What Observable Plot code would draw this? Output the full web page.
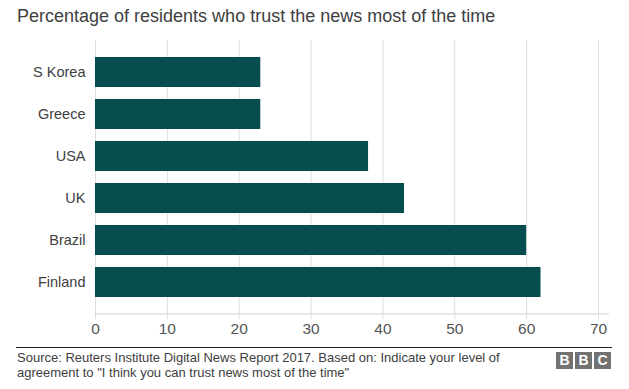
<!DOCTYPE html>
<html><head><meta charset="utf-8">
<script src="https://cdn.jsdelivr.net/npm/d3@7"></script>
<script src="https://cdn.jsdelivr.net/npm/@observablehq/plot@0.6"></script>
<style>
body{margin:0;background:#fff;font-family:"Liberation Sans",Arial,Helvetica,sans-serif;width:629px;height:389px;overflow:hidden;position:relative}
#title{position:absolute;left:17px;top:6px;font-size:18px;color:#404040;white-space:nowrap}
#chart{position:absolute;left:0;top:34px}
#foot{position:absolute;left:16px;top:347px;width:596px;border-top:1.5px solid #222;}
#src{position:absolute;left:17px;top:351px;font-size:13px;line-height:14.5px;color:#404040;white-space:nowrap}
#bbc{position:absolute;left:556px;top:352px;display:flex;gap:2px}
#bbc span{display:block;width:17px;height:17px;background:#727272;color:#fff;font-weight:bold;font-size:14px;line-height:17px;text-align:center}
</style></head><body>
<div id="title">Percentage of residents who trust the news most of the time</div>
<div id="chart"></div>
<div id="foot"></div>
<div id="src">Source: Reuters Institute Digital News Report 2017. Based on: Indicate your level of<br>agreement to "I think you can trust news most of the time"</div>
<div id="bbc"><span>B</span><span>B</span><span>C</span></div>
<script>
const countries = ["S Korea", "Greece", "USA", "UK", "Brazil", "Finland"];
const values = [23, 23, 38, 43, 60, 62];
const xTicks = [0, 10, 20, 30, 40, 50, 60, 70];

const data = countries.map((c, i) => ({country: c, value: values[i]}));

const baseLine = (index, scales, values, dims) => {
  const ns = "http://www.w3.org/2000/svg";
  const l = document.createElementNS(ns, "line");
  const y = dims.height - dims.marginBottom;
  l.setAttribute("x1", dims.marginLeft);
  l.setAttribute("x2", dims.width - 20);
  l.setAttribute("y1", y);
  l.setAttribute("y2", y);
  l.setAttribute("stroke", "#d0d0d0");
  l.setAttribute("stroke-width", 1);
  return l;
};

const chart = Plot.plot({
  width: 629,
  height: 312,
  marginTop: 6,
  marginBottom: 32,
  marginLeft: 95,
  marginRight: 31,
  style: {fontFamily: '"Liberation Sans", Arial, sans-serif', color: "#404040", background: "white"},
  x: {domain: [0, 70], ticks: xTicks, label: null},
  y: {domain: countries, paddingInner: 0.294, paddingOuter: 0.39, label: null},
  marks: [
    Plot.gridX(xTicks, {stroke: "#dddddd", strokeOpacity: 1}),
    Plot.barX(data, {x: "value", y: "country", fill: "#054d4e"}),
    baseLine,
    Plot.axisX({ticks: xTicks, tickSize: 5, stroke: "#dddddd", tickPadding: 3, fontSize: 15.5, fill: "#555555", label: null}),
    Plot.axisY({tickSize: 0, tickPadding: 10, fontSize: 14.5, fill: "#404040", label: null})
  ]
});
document.getElementById("chart").appendChild(chart);
</script>
</body></html>
